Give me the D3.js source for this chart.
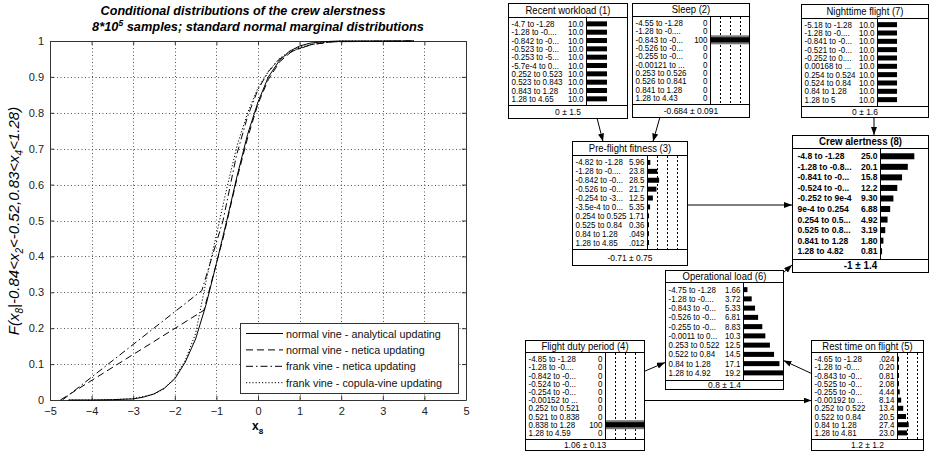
<!DOCTYPE html>
<html>
<head>
<meta charset="utf-8">
<script src="https://cdn.jsdelivr.net/npm/d3@7"></script>
<style>
  body { margin: 0; background: #fff; }
  svg { display: block; }
  text { font-family: "Liberation Sans", Arial, sans-serif; }
</style>
</head>
<body>
<svg id="chart" width="930" height="464"></svg>
<script>
// ---------- CDF panel: conditional distribution of crew alertness ----------
const xTicks = [-5, -4, -3, -2, -1, 0, 1, 2, 3, 4, 5];
const yTicks = [0, 0.1, 0.2, 0.3, 0.4, 0.5, 0.6, 0.7, 0.8, 0.9, 1];
const yTickLabels = ["0", "0.1", "0.2", "0.3", "0.4", "0.5", "0.6", "0.7", "0.8", "0.9", "1"];

const analyticX = [-4.55, -4, -3.5, -3, -2.75, -2.5, -2.25, -2, -1.75, -1.5, -1.25, -1, -0.75, -0.5, -0.25, 0, 0.25, 0.5, 0.75, 1, 1.25, 1.5, 1.75, 2, 2.5, 3, 3.75];
const analyticY = [0, 0, 0.001, 0.003, 0.008, 0.017, 0.033, 0.059, 0.105, 0.17, 0.265, 0.38, 0.5, 0.625, 0.74, 0.83, 0.9, 0.943, 0.971, 0.986, 0.994, 0.997, 0.999, 1, 1, 1, 1];

const normalNeticaX = [-4.75, -1.3, -0.84, -0.52, -0.25, 0, 0.25, 0.52, 0.84, 1.28, 1.8, 3.75];
const normalNeticaY = [0, 0.25, 0.45, 0.61, 0.73, 0.825, 0.893, 0.942, 0.974, 0.99, 0.998, 1];

const frankNeticaX = [-4.7, -1.35, -0.84, -0.52, -0.25, 0, 0.25, 0.52, 0.84, 1.28, 1.8, 3.75];
const frankNeticaY = [0, 0.305, 0.5, 0.68, 0.79, 0.865, 0.915, 0.95, 0.972, 0.99, 0.998, 1];

const copulaX = [-4.55, -4, -3.5, -3, -2.5, -2.25, -2, -1.75, -1.5, -1.25, -1, -0.75, -0.5, -0.25, 0, 0.25, 0.5, 0.75, 1, 1.5, 2, 3, 3.75];
const copulaY = [0, 0, 0.001, 0.004, 0.016, 0.032, 0.062, 0.11, 0.185, 0.33, 0.46, 0.59, 0.71, 0.8, 0.87, 0.915, 0.95, 0.97, 0.983, 0.995, 1, 1, 1];

const seriesNames = [
  "normal vine - analytical updating",
  "normal vine - netica updating",
  "frank vine - netica updating",
  "frank vine - copula-vine updating"
];

// ---------- Bayesian network nodes ----------
const workloadBins = ["-4.7 to -1.28", "-1.28 to -0....", "-0.842 to -0...", "-0.523 to -0...", "-0.253 to -5...", "-5.7e-4 to 0...", "0.252 to 0.523", "0.523 to 0.843", "0.843 to 1.28", "1.28 to 4.65"];
const workloadProbs = [10, 10, 10, 10, 10, 10, 10, 10, 10, 10];
const workloadMean = "0 \u00b1 1.5";

const sleepBins = ["-4.55 to -1.28", "-1.28 to -0....", "-0.843 to -0...", "-0.526 to -0...", "-0.255 to -0...", "-0.00121 to ...", "0.253 to 0.526", "0.526 to 0.841", "0.841 to 1.28", "1.28 to 4.43"];
const sleepProbs = [0, 0, 100, 0, 0, 0, 0, 0, 0, 0];
const sleepMean = "-0.684 \u00b1 0.091";

const nightBins = ["-5.18 to -1.28", "-1.28 to -0....", "-0.841 to -0...", "-0.521 to -0...", "-0.252 to 0....", "0.00168 to ...", "0.254 to 0.524", "0.524 to 0.84", "0.84 to 1.28", "1.28 to 5"];
const nightProbs = [10, 10, 10, 10, 10, 10, 10, 10, 10, 10];
const nightMean = "0 \u00b1 1.6";

const fitnessBins = ["-4.82 to -1.28", "-1.28 to -0....", "-0.842 to -0...", "-0.526 to -0...", "-0.254 to -3...", "-3.5e-4 to 0...", "0.254 to 0.525", "0.525 to 0.84", "0.84 to 1.28", "1.28 to 4.85"];
const fitnessProbs = [5.96, 23.8, 28.5, 21.7, 12.5, 5.35, 1.71, 0.36, 0.049, 0.012];
const fitnessMean = "-0.71 \u00b1 0.75";

const alertBins = ["-4.8 to -1.28", "-1.28 to -0.8...", "-0.841 to -0...", "-0.524 to -0...", "-0.252 to 9e-4", "9e-4 to 0.254", "0.254 to 0.5...", "0.525 to 0.8...", "0.841 to 1.28", "1.28 to 4.82"];
const alertProbs = [25.0, 20.1, 15.8, 12.2, 9.30, 6.88, 4.92, 3.19, 1.80, 0.81];
const alertMean = "-1 \u00b1 1.4";

const loadBins = ["-4.75 to -1.28", "-1.28 to -0....", "-0.843 to -0...", "-0.526 to -0...", "-0.255 to -0...", "-0.0011 to 0...", "0.253 to 0.522", "0.522 to 0.84", "0.84 to 1.28", "1.28 to 4.92"];
const loadProbs = [1.66, 3.72, 5.33, 6.81, 8.83, 10.3, 12.5, 14.5, 17.1, 19.2];
const loadMean = "0.8 \u00b1 1.4";

const dutyBins = ["-4.85 to -1.28", "-1.28 to -0....", "-0.842 to -0...", "-0.524 to -0...", "-0.254 to -0...", "-0.00152 to ...", "0.252 to 0.521", "0.521 to 0.838", "0.838 to 1.28", "1.28 to 4.59"];
const dutyProbs = [0, 0, 0, 0, 0, 0, 0, 0, 100, 0];
const dutyMean = "1.06 \u00b1 0.13";

const restBins = ["-4.65 to -1.28", "-1.28 to -0....", "-0.843 to -0...", "-0.525 to -0...", "-0.255 to -0...", "-0.00192 to ...", "0.252 to 0.522", "0.522 to 0.84", "0.84 to 1.28", "1.28 to 4.81"];
const restProbs = [0.024, 0.20, 0.81, 2.08, 4.44, 8.14, 13.4, 20.5, 27.4, 23.0];
const restMean = "1.2 \u00b1 1.2";

// ======================================================================
const svg = d3.select("#chart");

// ---------- left panel ----------
const x = d3.scaleLinear().domain([-5, 5]).range([50, 466]);
const y = d3.scaleLinear().domain([0, 1]).range([400, 41]);
const axisCol = "#333";

const plot = svg.append("g");

// dotted grid
plot.selectAll("line.gx").data(xTicks.slice(1, -1)).join("line")
  .attr("x1", d => Math.round(x(d)) + 0.5).attr("x2", d => Math.round(x(d)) + 0.5)
  .attr("y1", y(1)).attr("y2", y(0))
  .attr("stroke", "#555").attr("stroke-width", 1).attr("stroke-dasharray", "1,2.5");
plot.selectAll("line.gy").data(yTicks.slice(1, -1)).join("line")
  .attr("y1", d => Math.round(y(d)) + 0.5).attr("y2", d => Math.round(y(d)) + 0.5)
  .attr("x1", x(-5)).attr("x2", x(5))
  .attr("stroke", "#555").attr("stroke-width", 1).attr("stroke-dasharray", "1,2.5");

// axes with inward ticks on all four sides
const fmtY = (d, i) => yTickLabels[i];
const axB = plot.append("g").attr("transform", `translate(0,${y(0)})`)
  .call(d3.axisBottom(x).tickValues(xTicks).tickSizeInner(-4).tickSizeOuter(0).tickPadding(7));
const axT = plot.append("g").attr("transform", `translate(0,${y(1)})`)
  .call(d3.axisTop(x).tickValues(xTicks).tickSizeInner(-4).tickSizeOuter(0).tickFormat(""));
const axL = plot.append("g").attr("transform", `translate(${x(-5)},0)`)
  .call(d3.axisLeft(y).tickValues(yTicks).tickFormat(fmtY).tickSizeInner(-4).tickSizeOuter(0).tickPadding(6));
const axR = plot.append("g").attr("transform", `translate(${x(5)},0)`)
  .call(d3.axisRight(y).tickValues(yTicks).tickSizeInner(-4).tickSizeOuter(0).tickFormat(""));
[axB, axT, axL, axR].forEach(a => {
  a.select(".domain").attr("stroke", axisCol);
  a.selectAll(".tick line").attr("stroke", axisCol);
  a.selectAll(".tick text").attr("fill", "#222").style("font-size", "11px")
    .style("font-family", "'Liberation Sans', Arial, sans-serif");
});

// curves
const curves = [
  { xs: analyticX, ys: analyticY, dash: null },
  { xs: normalNeticaX, ys: normalNeticaY, dash: "7,4" },
  { xs: frankNeticaX, ys: frankNeticaY, dash: "7,3,1.5,3" },
  { xs: copulaX, ys: copulaY, dash: "1.2,2" }
];
const lineGen = d3.line().x(d => x(d[0])).y(d => y(d[1]));
curves.forEach(c => {
  plot.append("path")
    .datum(c.xs.map((v, i) => [v, c.ys[i]]))
    .attr("d", lineGen)
    .attr("fill", "none").attr("stroke", "#000").attr("stroke-width", 1)
    .attr("stroke-dasharray", c.dash);
});

// legend
const leg = plot.append("g");
leg.append("rect").attr("x", 240.5).attr("y", 323.5).attr("width", 218).attr("height", 70)
  .attr("fill", "#fff").attr("stroke", axisCol);
seriesNames.forEach((name, i) => {
  const ly = 333.5 + i * 16.4;
  leg.append("line").attr("x1", 246).attr("x2", 283).attr("y1", ly).attr("y2", ly)
    .attr("stroke", "#000").attr("stroke-dasharray", curves[i].dash);
  leg.append("text").attr("x", 286).attr("y", ly + 4).text(name)
    .style("font-size", "10.8px").attr("fill", "#111");
});

// titles and axis labels
svg.append("text").attr("x", 243).attr("y", 15).attr("text-anchor", "middle")
  .style("font-size", "12.6px").style("font-style", "italic").style("font-weight", "bold")
  .text("Conditional distributions of the crew alerstness");
const t2 = svg.append("text").attr("x", 258).attr("y", 31).attr("text-anchor", "middle")
  .style("font-size", "12.8px").style("font-style", "italic").style("font-weight", "bold");
t2.append("tspan").text("8*10");
t2.append("tspan").attr("dy", -5).style("font-size", "8.5px").text("5");
t2.append("tspan").attr("dy", 5).text(" samples; standard normal marginal distributions");

const yl = svg.append("text").attr("transform", "translate(19,221) rotate(-90)")
  .attr("text-anchor", "middle").style("font-size", "15px").style("font-style", "italic");
yl.append("tspan").text("F(x");
yl.append("tspan").attr("dy", 4).style("font-size", "10px").text("8");
yl.append("tspan").attr("dy", -4).text("|-0.84<x");
yl.append("tspan").attr("dy", 4).style("font-size", "10px").text("2");
yl.append("tspan").attr("dy", -4).text("<-0.52,0.83<x");
yl.append("tspan").attr("dy", 4).style("font-size", "10px").text("4");
yl.append("tspan").attr("dy", -4).text("<1.28)");

const xl = svg.append("text").attr("x", 252).attr("y", 430)
  .style("font-size", "12px").style("font-weight", "bold");
xl.append("tspan").text("x");
xl.append("tspan").attr("dy", 4).style("font-size", "8px").text("8");

// ---------- right panel: network ----------
const defs = svg.append("defs");
defs.append("marker").attr("id", "arr").attr("viewBox", "0 0 8 6")
  .attr("refX", 8).attr("refY", 3).attr("markerWidth", 8).attr("markerHeight", 6)
  .attr("markerUnits", "userSpaceOnUse").attr("orient", "auto")
  .append("path").attr("d", "M0,0 L8,3 L0,6 Z").attr("fill", "#000");

const links = [
  [597, 118, 603, 141.5],
  [660, 117, 653, 141.5],
  [874, 117, 874, 135],
  [687, 205, 792, 205],
  [783, 273, 792, 265],
  [644, 371.5, 665, 362.5],
  [644, 400.5, 811.5, 400.5],
  [811.5, 373.5, 783.5, 360.5]
];
svg.append("g").selectAll("line").data(links).join("line")
  .attr("x1", d => d[0]).attr("y1", d => d[1]).attr("x2", d => d[2]).attr("y2", d => d[3])
  .attr("stroke", "#000").attr("stroke-width", 1).attr("marker-end", "url(#arr)");

const nodes = [
  { title: "Recent workload (1)", bins: workloadBins, probs: workloadProbs, mean: workloadMean },
  { title: "Sleep (2)", bins: sleepBins, probs: sleepProbs, mean: sleepMean },
  { title: "Nighttime flight (7)", bins: nightBins, probs: nightProbs, mean: nightMean },
  { title: "Pre-flight fitness (3)", bins: fitnessBins, probs: fitnessProbs, mean: fitnessMean },
  { title: "Crew alertness (8)", bins: alertBins, probs: alertProbs, mean: alertMean },
  { title: "Operational load (6)", bins: loadBins, probs: loadProbs, mean: loadMean },
  { title: "Flight duty period (4)", bins: dutyBins, probs: dutyProbs, mean: dutyMean },
  { title: "Rest time on flight (5)", bins: restBins, probs: restProbs, mean: restMean }
];

// box geometry: left, top, width, title height, row height, bottom, bar divider, bar width, scale max, dotted guides
const layout = [
  { x: 508.5, y: 3.5, w: 119, th: 13.2, rh: 8.33, b: 118.5, div: 586.5, bw: 41, max: 20.5, grid: false, bold: false },
  { x: 632.5, y: 3.5, w: 117, th: 12.5, rh: 8.33, b: 117.5, div: 710.5, bw: 39, max: 100, grid: true, bold: false },
  { x: 801.5, y: 4.5, w: 127, th: 13, rh: 8.33, b: 117.5, div: 877.5, bw: 51, max: 26.8, grid: false, bold: false },
  { x: 572.5, y: 141.5, w: 115, th: 13.5, rh: 8.9, b: 265.5, div: 647.5, bw: 39, max: 100, grid: true, bold: false },
  { x: 792.5, y: 135.5, w: 136, th: 12.5, rh: 10.55, b: 272.5, div: 880.5, bw: 48, max: 36, grid: false, bold: true },
  { x: 665.5, y: 270.5, w: 118, th: 11.5, rh: 9.25, b: 389.5, div: 743.5, bw: 40, max: 19.3, grid: false, bold: false },
  { x: 525.5, y: 340.5, w: 119, th: 11.5, rh: 8.2, b: 450.5, div: 605.5, bw: 39, max: 100, grid: true, bold: false },
  { x: 811.5, y: 340.5, w: 112, th: 11.5, rh: 8.2, b: 450.5, div: 897.5, bw: 39, max: 100, grid: true, bold: false }
];

function fmtProb(v) {
  if (v === 0) return "0";
  if (v >= 100) return "100";
  if (v >= 10) return v.toFixed(1);
  if (v >= 0.1) return v.toFixed(2);
  return v.toFixed(3).replace(/^0/, "");
}

// slightly condensed node text
function nodeText(g, tx, ty, str, size, weight, sx, anchor) {
  return g.append("text")
    .attr("transform", `translate(${tx},${ty}) scale(${sx},1)`)
    .attr("text-anchor", anchor || "start")
    .style("font-size", size + "px").style("font-weight", weight)
    .text(str);
}

nodes.forEach((n, k) => {
  const L = layout[k];
  const g = svg.append("g");
  const clipId = "clip" + k;
  defs.append("clipPath").attr("id", clipId).append("rect")
    .attr("x", L.x).attr("y", L.y).attr("width", L.w).attr("height", L.b - L.y);

  const titleSep = L.y + L.th;
  const rowsTop = titleSep + 3;
  const rows = d3.scaleBand().domain(d3.range(n.probs.length))
    .range([rowsTop, rowsTop + n.probs.length * L.rh]);
  const sepY = Math.round(rowsTop + n.probs.length * L.rh + 2) + 0.5;
  const bar = d3.scaleLinear().domain([0, L.max]).range([0, L.bw]);
  const fs = L.bold ? 9.5 : 8.5;
  const sx = L.bold ? 0.9 : 0.94;
  const fw = L.bold ? "bold" : "normal";

  g.append("rect").attr("x", L.x).attr("y", L.y).attr("width", L.w).attr("height", L.b - L.y)
    .attr("fill", "#fff").attr("stroke", "#000");
  g.append("line").attr("x1", L.x).attr("x2", L.x + L.w).attr("y1", Math.round(titleSep) + 0.5).attr("y2", Math.round(titleSep) + 0.5).attr("stroke", "#000");
  g.append("line").attr("x1", L.x).attr("x2", L.x + L.w).attr("y1", sepY).attr("y2", sepY).attr("stroke", "#000");
  g.append("line").attr("x1", L.div).attr("x2", L.div).attr("y1", titleSep).attr("y2", sepY).attr("stroke", "#000");

  const inner = g.append("g").attr("clip-path", `url(#${clipId})`);
  if (L.grid) {
    inner.selectAll("line.guide").data([25, 50, 75]).join("line")
      .attr("x1", d => Math.round(L.div + bar(d)) + 0.5).attr("x2", d => Math.round(L.div + bar(d)) + 0.5)
      .attr("y1", titleSep + 1).attr("y2", sepY)
      .attr("stroke", "#000").attr("stroke-dasharray", "2,2");
  }

  nodeText(g, L.x + L.w / 2, L.y + L.th / 2 + 3.6, n.title, L.bold ? 10.5 : 10, fw, L.bold ? 0.92 : 0.95, "middle");

  n.probs.forEach((p, i) => {
    const cy = rows(i) + rows.bandwidth() / 2;
    nodeText(g, L.x + (L.bold ? 5 : 3), cy + 3, n.bins[i], fs, fw, sx);
    nodeText(g, L.div - 3, cy + 3, fmtProb(p), fs, fw, sx, "end");
    if (p >= 100) {
      inner.append("rect").attr("x", L.div + 0.5).attr("y", cy - 4.5).attr("width", bar(p) - 1).attr("height", 9).attr("fill", "#777");
      inner.append("rect").attr("x", L.div + 0.5).attr("y", cy - 2.5).attr("width", bar(p) - 1).attr("height", 5).attr("fill", "#000");
    } else if (p > 0) {
      const h = L.bold ? 6 : 5;
      inner.append("rect").attr("x", L.div + 0.5).attr("y", cy - h / 2)
        .attr("width", Math.max(1, bar(p))).attr("height", h).attr("fill", "#000");
    }
  });

  nodeText(g, L.x + L.w / 2, (sepY + L.b) / 2 + 3.3, n.mean, L.bold ? 10.5 : 9, fw, 0.94, "middle");
});
</script>
</body>
</html>
